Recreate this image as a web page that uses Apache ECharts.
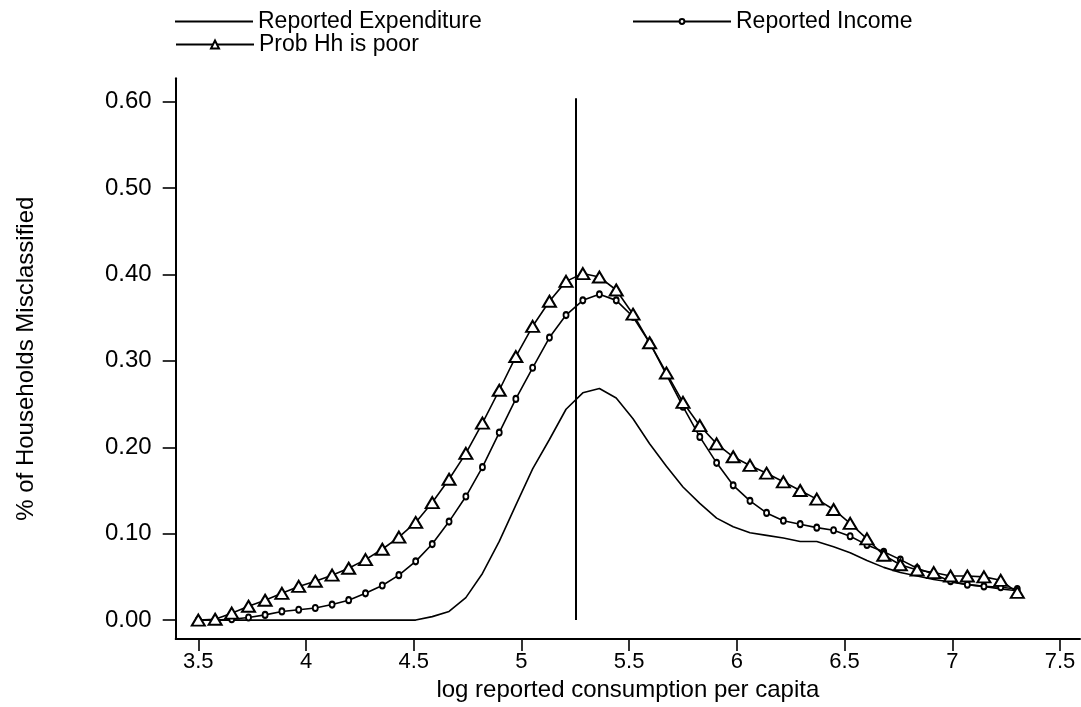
<!DOCTYPE html>
<html>
<head>
<meta charset="utf-8">
<script src="https://cdn.jsdelivr.net/npm/echarts@6/dist/echarts.min.js"></script>
<style>
html,body{margin:0;padding:0;background:#fff;}
#chart{width:1081px;height:707px;}
</style>
</head>
<body>
<div id="chart"></div>
<script>
// x positions (log reported consumption per capita)
var xValues = [3.500,3.578,3.655,3.733,3.810,3.888,3.966,4.043,4.121,4.198,
               4.276,4.354,4.431,4.509,4.586,4.664,4.742,4.819,4.897,4.974,
               5.052,5.130,5.207,5.285,5.362,5.440,5.518,5.595,5.673,5.750,
               5.828,5.906,5.983,6.061,6.138,6.216,6.294,6.371,6.449,6.526,
               6.604,6.682,6.759,6.837,6.914,6.992,7.070,7.147,7.225,7.302];

var expenditure = [0.000,0.000,0.000,0.000,0.000,0.000,0.000,0.000,0.000,0.000,
                   0.000,0.000,0.000,0.000,0.004,0.010,0.026,0.054,0.091,0.133,
                   0.175,0.209,0.244,0.263,0.268,0.257,0.233,0.204,0.178,0.154,
                   0.135,0.118,0.108,0.101,0.098,0.095,0.091,0.091,0.085,0.078,
                   0.069,0.061,0.055,0.051,0.047,0.044,0.041,0.039,0.036,0.034];

var income = [0.000,0.000,0.001,0.003,0.006,0.010,0.012,0.014,0.018,0.023,
              0.031,0.040,0.052,0.068,0.088,0.114,0.143,0.177,0.217,0.256,
              0.292,0.327,0.353,0.370,0.377,0.370,0.351,0.321,0.284,0.247,
              0.212,0.182,0.156,0.138,0.124,0.115,0.111,0.107,0.104,0.097,
              0.087,0.079,0.070,0.060,0.053,0.045,0.041,0.039,0.038,0.036];

var probPoor = [0.000,0.001,0.008,0.016,0.023,0.031,0.039,0.045,0.052,0.060,
                0.070,0.082,0.096,0.113,0.136,0.163,0.193,0.228,0.266,0.305,
                0.340,0.369,0.392,0.401,0.397,0.382,0.354,0.321,0.286,0.252,
                0.225,0.204,0.189,0.179,0.170,0.160,0.150,0.140,0.128,0.112,
                0.094,0.075,0.064,0.058,0.055,0.051,0.051,0.050,0.046,0.032];

var seriesNames = ['Reported Expenditure','Reported Income','Prob Hh is poor'];
var xTicks = [3.5,4,4.5,5,5.5,6,6.5,7,7.5];
var yTicks = [0,0.1,0.2,0.3,0.4,0.5,0.6];
var cutoffX = 5.25;
var cutoffRange = [0,0.604];

function pairs(ys){ return ys.map(function(v,i){ return [xValues[i], v]; }); }

var FONT = 'Liberation Sans, Arial, sans-serif';

var chart = echarts.init(document.getElementById('chart'), null, {renderer:'canvas'});
var legendText = {color:'#000', fontSize:23, fontFamily:FONT};
chart.setOption({
  animation:false,
  backgroundColor:'#fff',
  legend:[
    {data:[{name:seriesNames[0], icon:'rect'}], left:175, top:10, padding:0, itemWidth:78, itemHeight:2,
     itemStyle:{color:'#000'}, textStyle:legendText, selectedMode:false},
    {data:[seriesNames[1]], left:632, top:10, padding:0, itemWidth:98, itemHeight:6, textStyle:legendText, selectedMode:false},
    {data:[seriesNames[2]], left:175, top:33, padding:0, itemWidth:78, itemHeight:10, textStyle:legendText, selectedMode:false}
  ],
  grid:{left:175.7, right:1, top:78.3, bottom:63.5, containLabel:false},
  xAxis:{
    type:'value', min:3.395, max:7.593,
    name:'log reported consumption per capita', nameLocation:'middle', nameGap:36,
    nameTextStyle:{color:'#000', fontSize:24, fontFamily:FONT},
    axisLine:{onZero:false, lineStyle:{color:'#000', width:2}},
    axisTick:{customValues:xTicks, length:12, lineStyle:{color:'#000', width:1.6}},
    axisLabel:{customValues:xTicks, color:'#000', fontSize:22, fontFamily:FONT, margin:12},
    splitLine:{show:false}
  },
  yAxis:{
    type:'value', min:-0.022, max:0.627,
    name:'% of Households Misclassified', nameLocation:'middle', nameGap:137,
    nameTextStyle:{color:'#000', fontSize:24, fontFamily:FONT},
    axisLine:{onZero:false, lineStyle:{color:'#000', width:2}},
    axisTick:{customValues:yTicks, length:13, lineStyle:{color:'#000', width:1.6}},
    axisLabel:{customValues:yTicks, color:'#000', fontSize:24, fontFamily:FONT, margin:24,
               formatter:function(v){ return v.toFixed(2); }},
    splitLine:{show:false}
  },
  series:[
    {name:seriesNames[0], type:'line', data:pairs(expenditure), symbol:'none',
     lineStyle:{color:'#000', width:1.6}, itemStyle:{color:'#000'},
     markLine:{silent:true, symbol:'none', label:{show:false},
       lineStyle:{color:'#000', width:2, type:'solid'},
       data:[[{coord:[cutoffX,cutoffRange[0]]},{coord:[cutoffX,cutoffRange[1]]}]]}},
    {name:seriesNames[1], type:'line', data:pairs(income), symbol:'emptyCircle', symbolSize:[5,6],
     lineStyle:{color:'#000', width:1.6}, itemStyle:{color:'#000', borderColor:'#000', borderWidth:1.5}},
    {name:seriesNames[2], type:'line', data:pairs(probPoor), symbol:'emptyTriangle', symbolSize:[13,11],
     lineStyle:{color:'#000', width:1.6}, itemStyle:{color:'#000', borderColor:'#000', borderWidth:2}}
  ]
});
</script>
</body>
</html>
